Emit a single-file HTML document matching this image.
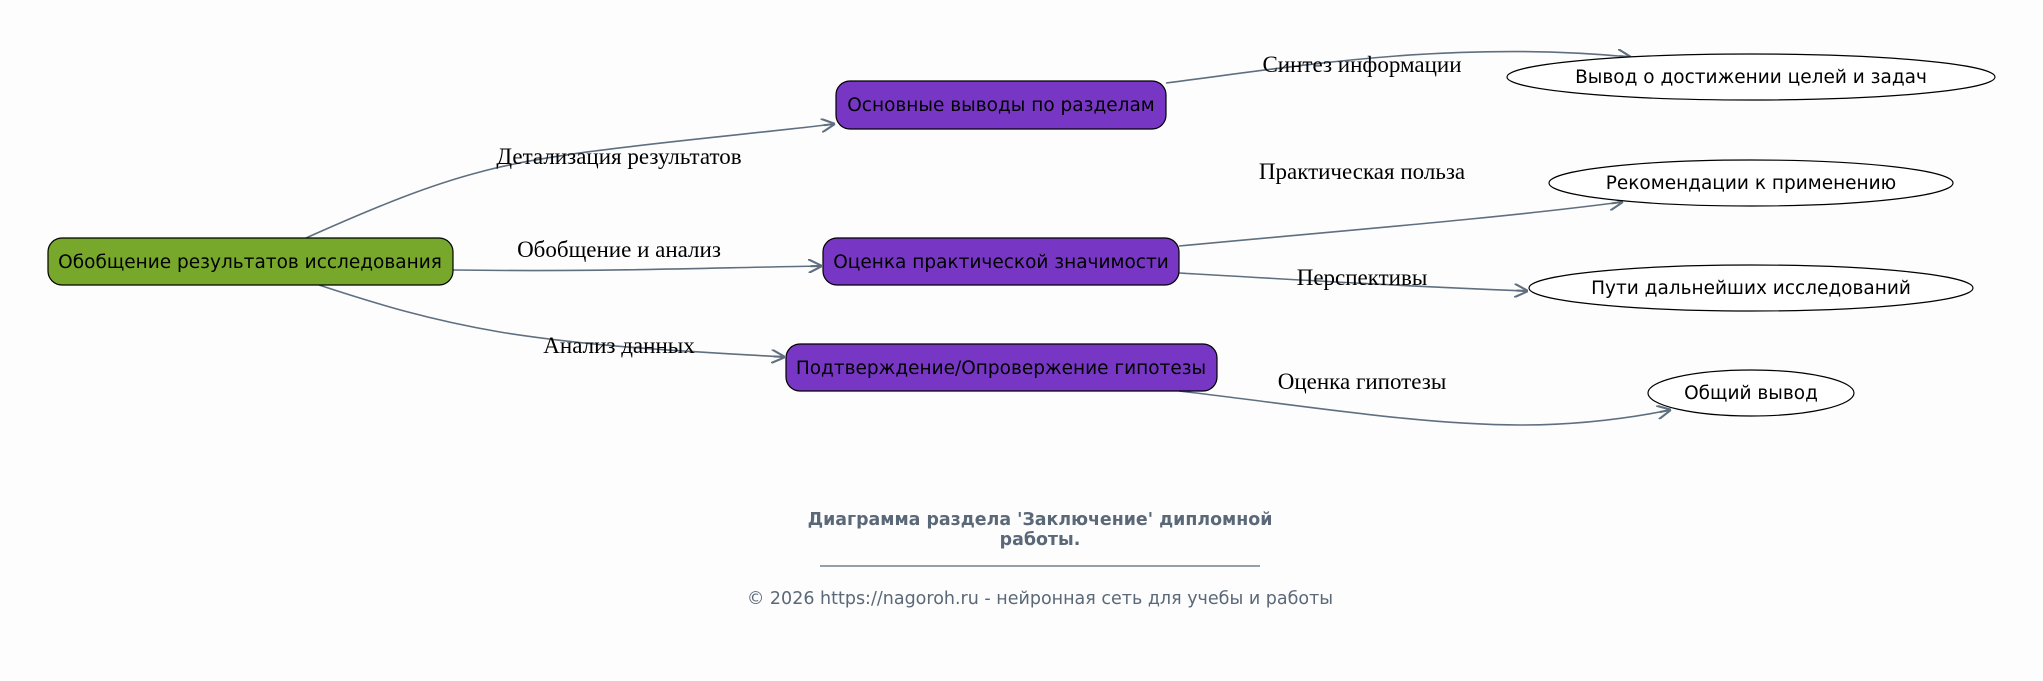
<!DOCTYPE html>
<html><head><meta charset="utf-8"><style>
html,body{margin:0;padding:0;background:#fdfdfd;}
svg{display:block;}
.n{font-family:"DejaVu Sans","Liberation Sans",sans-serif;font-size:18.5px;fill:#000;}
.e{font-family:"Liberation Serif","DejaVu Serif",serif;font-size:23px;fill:#000;}
.ed{fill:none;stroke:#5f6f7f;stroke-width:1.6;}
</style></head><body>
<svg width="2043" height="681" viewBox="0 0 2043 681" xmlns="http://www.w3.org/2000/svg">
<defs>
<marker id="a" viewBox="0 0 12 12" refX="11" refY="6" markerWidth="14" markerHeight="14" markerUnits="userSpaceOnUse" orient="auto">
<path d="M0,0 L12,6 L0,12 M12,6 L2,6" fill="none" stroke="#5f6f7f" stroke-width="1.8"/>
</marker>
</defs>
<rect width="2043" height="681" fill="#fdfdfd"/>
<path class="ed" marker-end="url(#a)" d="M306,238 C380,205 430,185 480,172 C560,150 700,140 834,124"/>
<path class="ed" marker-end="url(#a)" d="M453,270 C600,272 700,268 821,266"/>
<path class="ed" marker-end="url(#a)" d="M319,285 C380,305 430,320 500,332 C600,348 700,352 784,357"/>
<path class="ed" marker-end="url(#a)" d="M1166,83 C1300,66 1450,40 1630,57"/>
<path class="ed" marker-end="url(#a)" d="M1179,246 C1350,230 1500,218 1622,202"/>
<path class="ed" marker-end="url(#a)" d="M1179,273 C1300,280 1400,286 1527,291"/>
<path class="ed" marker-end="url(#a)" d="M1179,391 C1300,405 1420,425 1520,425 C1580,425 1630,418 1670,410"/>
<text class="e" x="619" y="164" text-anchor="middle">Детализация результатов</text>
<text class="e" x="619" y="257" text-anchor="middle">Обобщение и анализ</text>
<text class="e" x="619" y="353" text-anchor="middle">Анализ данных</text>
<text class="e" x="1362" y="72" text-anchor="middle">Синтез информации</text>
<text class="e" x="1362" y="179" text-anchor="middle">Практическая польза</text>
<text class="e" x="1362" y="285" text-anchor="middle">Перспективы</text>
<text class="e" x="1362" y="389" text-anchor="middle">Оценка гипотезы</text>
<rect x="48" y="238" width="405" height="47" rx="14" fill="#77a82b" stroke="#000" stroke-width="1.2"/>
<text class="n" x="250" y="268" text-anchor="middle">Обобщение результатов исследования</text>
<rect x="836" y="81" width="330" height="48" rx="14" fill="#7737c4" stroke="#000" stroke-width="1.2"/>
<text class="n" x="1001" y="111" text-anchor="middle">Основные выводы по разделам</text>
<rect x="823" y="238" width="356" height="47" rx="14" fill="#7737c4" stroke="#000" stroke-width="1.2"/>
<text class="n" x="1001" y="268" text-anchor="middle">Оценка практической значимости</text>
<rect x="786" y="344" width="431" height="47" rx="14" fill="#7737c4" stroke="#000" stroke-width="1.2"/>
<text class="n" x="1001" y="374" text-anchor="middle">Подтверждение/Опровержение гипотезы</text>
<ellipse cx="1751" cy="77" rx="244" ry="23" fill="#fff" stroke="#000" stroke-width="1.2"/>
<text class="n" x="1751" y="83" text-anchor="middle">Вывод о достижении целей и задач</text>
<ellipse cx="1751" cy="183" rx="202" ry="23" fill="#fff" stroke="#000" stroke-width="1.2"/>
<text class="n" x="1751" y="189" text-anchor="middle">Рекомендации к применению</text>
<ellipse cx="1751" cy="288" rx="222" ry="23" fill="#fff" stroke="#000" stroke-width="1.2"/>
<text class="n" x="1751" y="294" text-anchor="middle">Пути дальнейших исследований</text>
<ellipse cx="1751" cy="393" rx="103" ry="23" fill="#fff" stroke="#000" stroke-width="1.2"/>
<text class="n" x="1751" y="399" text-anchor="middle">Общий вывод</text>
<g font-family="DejaVu Sans,Liberation Sans,sans-serif" fill="#5a6878" text-anchor="middle">
<text x="1040" y="525" font-size="17.4" font-weight="bold">Диаграмма раздела 'Заключение' дипломной</text>
<text x="1040" y="545" font-size="17.4" font-weight="bold">работы.</text>
<text x="1040" y="604" font-size="17.5">© 2026 https://nagoroh.ru - нейронная сеть для учебы и работы</text>
</g>
<line x1="820" y1="566" x2="1260" y2="566" stroke="#5a6878" stroke-width="1.3"/>
</svg>
</body></html>
